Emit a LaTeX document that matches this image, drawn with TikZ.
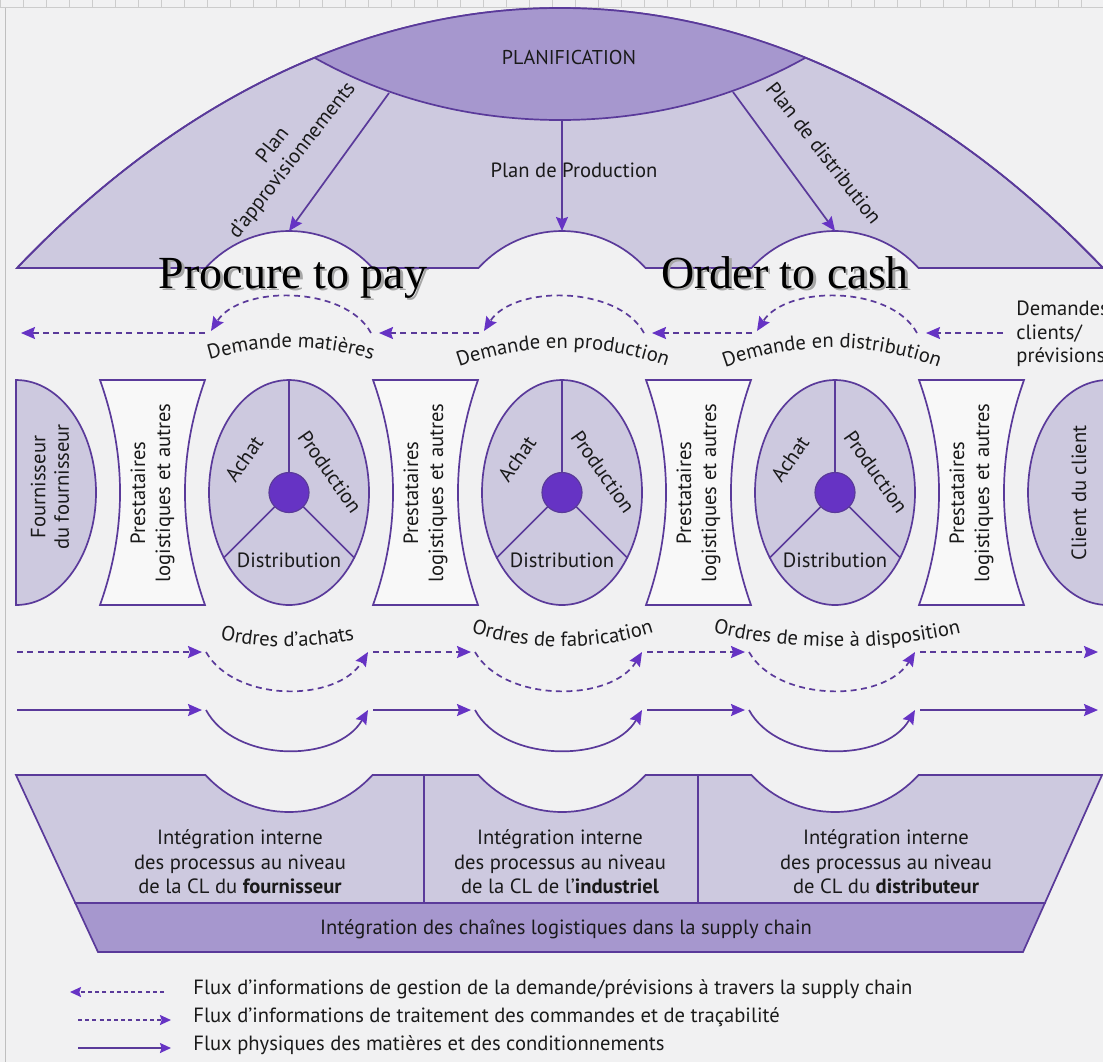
\documentclass[tikz,border=0pt]{standalone}
\usepackage{fontspec}
\setmainfont{PT Sans}
\newfontfamily\serifbig{Liberation Serif}
\usetikzlibrary{arrows.meta,decorations.text,shapes.geometric}
\definecolor{bgc}{HTML}{F1F1F2}
\definecolor{wht}{HTML}{F8F8F8}
\definecolor{linec}{HTML}{5A3A9A}
\definecolor{headc}{HTML}{6633C4}
\definecolor{lightp}{HTML}{CDC9DF}
\definecolor{midp}{HTML}{A697CE}
\definecolor{txt}{HTML}{1A1A1A}
\newcommand\lblfont{\fontsize{10.3}{12.3}\selectfont}
\tikzset{
  outl/.style={draw=linec, line width=0.85pt},
  tipk/.style={-{Stealth[length=7pt,width=6pt,inset=1pt,color=headc]}},
  flow/.style={outl, tipk},
  dflow/.style={flow, dash pattern=on 3pt off 2.2pt},
  lflow/.style={outl, -{Stealth[length=5.5pt,width=5pt,inset=0.8pt,color=headc]}},
  ldflow/.style={lflow, dash pattern=on 2pt off 1.6pt},
  lbl/.style={font=\lblfont, text=txt, inner sep=0pt},
  dot/.style={circle, fill=headc, draw=linec, line width=0.6pt, minimum size=20pt, inner sep=0pt},
  oval/.style={ellipse, outl, fill=lightp, minimum width=80pt, minimum height=112.5pt, inner sep=0pt},
  bigtxt/.style={font=\serifbig\fontsize{23}{23}\selectfont, inner sep=0pt, anchor=base},
}
\begin{document}
\begin{tikzpicture}[x=0.5pt,y=-0.5pt]
\useasboundingbox (0,0) rectangle (1103,1062);
\fill[bgc] (0,0) rectangle (1103,1062);
% scan frame artefacts
\draw[black!25, line width=0.4pt] (5,7) -- (5,1062);
\draw[black!20, line width=0.4pt] (0,7) -- (1103,7);
\foreach \t in {0,23,...,1100}{\draw[black!20, line width=0.4pt] (\t,0) -- (\t,7);}

% ---------- top fan ----------
\path[outl, fill=lightp] (17,268) .. controls (179,98) and (368,8) .. (560,8) .. controls (752,8) and (941,98) .. (1103,268)
 -- (918.5,268) .. controls (897,244.4) and (866.8,231) .. (835,231) .. controls (803.2,231) and (773,244.4) .. (751.5,268)
 -- (645.5,268) .. controls (624,244.4) and (593.8,231) .. (562,231) .. controls (530.2,231) and (500,244.4) .. (478.5,268)
 -- (372.5,268) .. controls (351,244.4) and (320.8,231) .. (289,231) .. controls (257.2,231) and (227,244.4) .. (205.5,268)
 -- cycle;
\begin{scope}
\clip (17,268) .. controls (179,98) and (368,8) .. (560,8) .. controls (752,8) and (941,98) .. (1103,268) -- cycle;
\fill[midp] (315,58) .. controls (390,100) and (474,120) .. (560,120) .. controls (646,120) and (730,100) .. (805,58) -- (805,0) -- (315,0) -- cycle;
\end{scope}
\draw[outl] (315,58) .. controls (390,100) and (474,120) .. (560,120) .. controls (646,120) and (730,100) .. (805,58);
\draw[outl] (17,268) .. controls (179,98) and (368,8) .. (560,8) .. controls (752,8) and (941,98) .. (1103,268);
\node[lbl, font=\fontsize{10}{12}\selectfont] (plan) at (569,57) {PLANIFICATION};

\coordinate (pa0) at (389,93);  \coordinate (pa1) at (289,231);
\coordinate (pp0) at (562,120); \coordinate (pp1) at (562,231);
\coordinate (pd0) at (733,92);  \coordinate (pd1) at (835,231);
\draw[flow] (pa0) -- (pa1);
\draw[flow] (pp0) -- (pp1);
\draw[flow] (pd0) -- (pd1);
\node[lbl, rotate=52, align=center] (lpa) at (283,153) {Plan\\d’approvisionnements};
\node[lbl] (lpp) at (574,170) {Plan de Production};
\node[lbl, rotate=-52] (lpd) at (824,153) {Plan de distribution};

\node[bigtxt, text=black!35] (ptps) at (295.5,290.5) {Procure to pay};
\node[bigtxt, text=black] (ptp) at (293,288) {Procure to pay};
\node[bigtxt, text=black!35] (otcs) at (787.5,290.5) {Order to cash};
\node[bigtxt, text=black] (otc) at (785,288) {Order to cash};

% ---------- demand flow (dashed, leftwards) ----------
\coordinate (dq0) at (21,333);   \coordinate (dq1) at (205,333);
\coordinate (da1s) at (371,333); \coordinate (da1e) at (211,331);
\coordinate (dq2) at (379,333);  \coordinate (dq3) at (479,333);
\coordinate (da2s) at (644,333); \coordinate (da2e) at (484,331);
\coordinate (dq4) at (652,333);  \coordinate (dq5) at (752,333);
\coordinate (da3s) at (917,333); \coordinate (da3e) at (757,331);
\coordinate (dq6) at (926,333);  \coordinate (dq7) at (1003,333);
\draw[dflow] (dq1) -- (dq0);
\draw[dflow] (dq3) -- (dq2);
\draw[dflow] (dq5) -- (dq4);
\draw[dflow] (dq7) -- (dq6);
\draw[dflow] (da1s) .. controls (345,285) and (240,285) .. (da1e);
\draw[dflow] (da2s) .. controls (618,285) and (513,285) .. (da2e);
\draw[dflow] (da3s) .. controls (891,285) and (786,285) .. (da3e);
\path[decorate, decoration={text along path, text={|\lblfont|Demande matières}, text align=center, text color=txt}]
  (196,364) .. controls (259,342.5) and (323,342.5) .. (386,364);
\path[decorate, decoration={text along path, text={|\lblfont|Demande en production}, text align=center, text color=txt}]
  (444,372) .. controls (523,340) and (603,340) .. (682,372);
\path[decorate, decoration={text along path, text={|\lblfont|Demande en distribution}, text align=center, text color=txt}]
  (710,373) .. controls (791,339.5) and (873,339.5) .. (954,373);
\node[lbl, align=left, anchor=west, font=\fontsize{10.3}{11.7}\selectfont] (dcp) at (1016,334) {Demandes\\clients/\\prévisions};

% ---------- actors ----------
\path[outl, fill=lightp] (16,380) .. controls (60.2,380) and (96,430.4) .. (96,492.5) .. controls (96,554.6) and (60.2,605) .. (16,605) -- cycle;
\node[lbl, rotate=90, align=center, font=\fontsize{10.3}{11.7}\selectfont] (four) at (50,487) {Fournisseur\\du fournisseur};
\node[oval] (E4) at (1108,492.5) {};
\node[lbl, rotate=90] (cli) at (1079,493) {Client du client};

\foreach \cx/\n in {152.5/1,425.5/2,698.5/3,971.5/4}{
  \path[outl, fill=wht] (\cx-52.5,380) -- (\cx+52.5,380) .. controls (\cx+25.8,455) and (\cx+25.8,530) .. (\cx+52.5,605)
     -- (\cx-52.5,605) .. controls (\cx-25.8,530) and (\cx-25.8,455) .. (\cx-52.5,380) -- cycle;
  \node[lbl, rotate=90, align=center, font=\fontsize{10.3}{12.5}\selectfont] (S\n) at (\cx,493) {Prestataires\\logistiques et autres};
}
\foreach \cx/\n in {289/1,562/2,835/3}{
  \node[oval] (E\n) at (\cx,492.5) {};
  \draw[outl] (E\n.center) -- (E\n.north);
  \draw[outl] (E\n.center) -- (E\n.-45);
  \draw[outl] (E\n.center) -- (E\n.-135);
  \node[dot] (D\n) at (E\n.center) {};
  \node[lbl, rotate=55] (A\n) at (\cx-45,459) {Achat};
  \node[lbl, rotate=-55] (P\n) at (\cx+41,472) {Production};
  \node[lbl] (T\n) at (\cx,560) {Distribution};
}

% ---------- order flow (dashed) ----------
\coordinate (oq0) at (17,652);  \coordinate (oq1) at (202,652);
\coordinate (od1s) at (206,652); \coordinate (od1e) at (368,652);
\coordinate (oq2) at (373,652); \coordinate (oq3) at (471,652);
\coordinate (od2s) at (475,652); \coordinate (od2e) at (642,652);
\coordinate (oq4) at (647,652); \coordinate (oq5) at (745,652);
\coordinate (od3s) at (749,652); \coordinate (od3e) at (915,652);
\coordinate (oq6) at (920,652); \coordinate (oq7) at (1098,652);
\draw[dflow] (oq0) -- (oq1);
\draw[dflow] (oq2) -- (oq3);
\draw[dflow] (oq4) -- (oq5);
\draw[dflow] (oq6) -- (oq7);
\draw[dflow] (od1s) .. controls (235,702.7) and (337,702.7) .. (od1e);
\draw[dflow] (od2s) .. controls (504,702.7) and (611,702.7) .. (od2e);
\draw[dflow] (od3s) .. controls (778,702.7) and (884,702.7) .. (od3e);
\path[decorate, decoration={text along path, text={|\lblfont|Ordres d’achats}, text align=center, text color=txt}]
  (204,635.5) .. controls (259.7,650.3) and (315.3,650.3) .. (371,635.5);
\path[decorate, decoration={text along path, text={|\lblfont|Ordres de fabrication}, text align=center, text color=txt}]
  (460,629) .. controls (528.3,652.7) and (596.7,652.7) .. (665,629);
\path[decorate, decoration={text along path, text={|\lblfont|Ordres de mise à disposition}, text align=center, text color=txt}]
  (700,629.5) .. controls (791.3,652.7) and (882.7,652.7) .. (974,629.5);

% ---------- physical flow (solid) ----------
\coordinate (fq0) at (17,710);  \coordinate (fq1) at (202,710);
\coordinate (fd1s) at (206,710); \coordinate (fd1e) at (368,710);
\coordinate (fq2) at (373,710); \coordinate (fq3) at (471,710);
\coordinate (fd2s) at (475,710); \coordinate (fd2e) at (642,710);
\coordinate (fq4) at (647,710); \coordinate (fq5) at (745,710);
\coordinate (fd3s) at (749,710); \coordinate (fd3e) at (915,710);
\coordinate (fq6) at (920,710); \coordinate (fq7) at (1098,710);
\draw[flow] (fq0) -- (fq1);
\draw[flow] (fq2) -- (fq3);
\draw[flow] (fq4) -- (fq5);
\draw[flow] (fq6) -- (fq7);
\draw[flow] (fd1s) .. controls (235,763.3) and (337,763.3) .. (fd1e);
\draw[flow] (fd2s) .. controls (504,763.3) and (611,763.3) .. (fd2e);
\draw[flow] (fd3s) .. controls (778,763.3) and (884,763.3) .. (fd3e);

% ---------- integration blocks ----------
\path[outl, fill=lightp] (16,775) -- (205.5,775)
  .. controls (227,798.6) and (257.2,812) .. (289,812) .. controls (320.8,812) and (351,798.6) .. (372.5,775)
  -- (478.5,775) .. controls (500,798.6) and (530.2,812) .. (562,812) .. controls (593.8,812) and (624,798.6) .. (645.5,775)
  -- (751.5,775) .. controls (773,798.6) and (803.2,812) .. (835,812) .. controls (866.8,812) and (897,798.6) .. (918.5,775)
  -- (1102,775) -- (1044.9,903) -- (75.3,903) -- cycle;
\draw[outl] (424,775) -- (424,903);
\draw[outl] (698,775) -- (698,903);
\path[outl, fill=midp] (75.3,903) -- (1044.9,903) -- (1023,952) -- (98,952) -- cycle;
\node[lbl, align=center, font=\fontsize{10.3}{12.3}\selectfont] (ib1) at (240,862) {Intégration interne\\des processus au niveau\\de la CL du \textbf{fournisseur}};
\node[lbl, align=center, font=\fontsize{10.3}{12.3}\selectfont] (ib2) at (560,862) {Intégration interne\\des processus au niveau\\de la CL de l’\textbf{industriel}};
\node[lbl, align=center, font=\fontsize{10.3}{12.3}\selectfont] (ib3) at (886,862) {Intégration interne\\des processus au niveau\\de CL du \textbf{distributeur}};
\node[lbl] (band) at (566,929) {Intégration des chaînes logistiques dans la supply chain};

% ---------- legend ----------
\coordinate (l1a) at (164,992); \coordinate (l1b) at (70,992);
\coordinate (l2a) at (78,1020); \coordinate (l2b) at (171,1020);
\coordinate (l3a) at (78,1048); \coordinate (l3b) at (171,1048);
\draw[ldflow] (l1a) -- (l1b);
\draw[ldflow] (l2a) -- (l2b);
\draw[lflow] (l3a) -- (l3b);
\node[lbl, anchor=west] (lt1) at (193,989) {Flux d’informations de gestion de la demande/prévisions à travers la supply chain};
\node[lbl, anchor=west] (lt2) at (193,1017) {Flux d’informations de traitement des commandes et de traçabilité};
\node[lbl, anchor=west] (lt3) at (193,1045) {Flux physiques des matières et des conditionnements};
\end{tikzpicture}
\end{document}
